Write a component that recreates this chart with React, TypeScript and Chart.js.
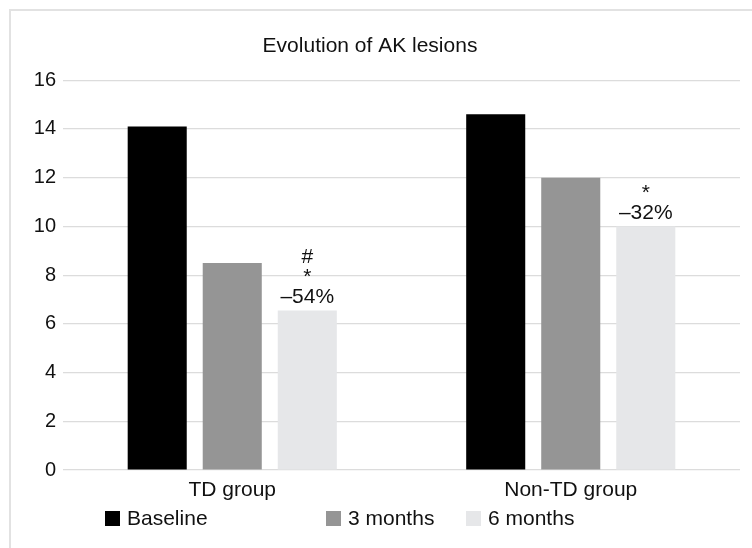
import { useEffect, useRef } from 'react';
import { Chart, registerables, Plugin } from 'chart.js';

Chart.register(...registerables);

const categories = ['TD group', 'Non-TD group'];
const seriesNames = ['Baseline', '3 months', '6 months'];
const baseline = [14.1, 14.6];
const threeMonths = [8.5, 12.0];
const sixMonths = [6.55, 10.0];
const sixMonthNotes = [['#', '*', '\u201354%'], ['*', '\u201332%']];
const seriesColors = ['#000000', '#959595', '#e6e7e9'];
const yMax = 16;
const yStep = 2;

const FONT = "'Liberation Sans', Arial, sans-serif";

// writes the significance marks above the 6-month bars
const notesPlugin: Plugin<'bar'> = {
    id: 'sixMonthNotes',
    afterDatasetsDraw(chart) {
        const meta = chart.getDatasetMeta(2);
        const ctx = chart.ctx;
        ctx.save();
        ctx.font = `21px ${FONT}`;
        ctx.fillStyle = '#111';
        ctx.textAlign = 'center';
        ctx.textBaseline = 'alphabetic';
        meta.data.forEach((el: any, i: number) => {
            const lines = sixMonthNotes[i] || [];
            lines.forEach((txt, k) => {
                const y = el.y - 7 - (lines.length - 1 - k) * 20;
                ctx.fillText(txt, el.x, y);
            });
        });
        ctx.restore();
    },
};

export default function App() {
    const canvasRef = useRef<HTMLCanvasElement>(null);

    useEffect(() => {
        document.body.style.margin = '0';
        if (!canvasRef.current) return;
        const values = [baseline, threeMonths, sixMonths];
        const chart = new Chart(canvasRef.current, {
            type: 'bar',
            data: {
                labels: categories,
                datasets: seriesNames.map((name, i) => ({
                    label: name,
                    data: values[i],
                    backgroundColor: seriesColors[i],
                    borderWidth: 0,
                    categoryPercentage: 0.665,
                    barPercentage: 0.787,
                })),
            },
            options: {
                animation: false,
                responsive: false,
                maintainAspectRatio: false,
                layout: { padding: { left: 0, right: 12, top: 0, bottom: 0 } },
                plugins: {
                    legend: { display: false },
                    tooltip: { enabled: false },
                    title: {
                        display: true,
                        text: 'Evolution of AK lesions',
                        color: '#111',
                        font: { family: FONT, size: 21, weight: 'normal', lineHeight: 1.2 },
                        padding: { top: 34, bottom: 21 },
                    },
                },
                scales: {
                    x: {
                        grid: { display: false },
                        border: { display: false },
                        ticks: { color: '#111', font: { family: FONT, size: 21 }, padding: 0 },
                        afterFit: (s: any) => { s.height = 78; },
                    },
                    y: {
                        min: 0,
                        max: yMax,
                        ticks: { stepSize: yStep, color: '#111', font: { family: FONT, size: 20 }, padding: 7 },
                        grid: { color: '#dcdcdc', lineWidth: 1.2, drawTicks: false },
                        border: { display: false },
                        afterFit: (s: any) => { s.width = 63; },
                    },
                },
            },
            plugins: [notesPlugin],
        });
        return () => chart.destroy();
    }, []);

    const legendLeft = [105, 326, 466];

    return (
        <div style={{ position: 'relative', width: 752, height: 548, overflow: 'hidden', background: '#fff' }}>
            <div style={{ position: 'absolute', left: 9, top: 9, width: 800, height: 600, border: '2px solid #e2e2e2' }} />
            <canvas ref={canvasRef} width={752} height={548} style={{ position: 'absolute', left: 0, top: 0 }} />
            {seriesNames.map((name, i) => (
                <div key={name} style={{
                    position: 'absolute', left: legendLeft[i], top: 506, display: 'flex', alignItems: 'center',
                    fontFamily: FONT, fontSize: 21, color: '#111', lineHeight: '24px',
                }}>
                    <span style={{ display: 'inline-block', width: 15, height: 15, background: seriesColors[i], marginRight: 7 }} />
                    {name}
                </div>
            ))}
        </div>
    );
}
